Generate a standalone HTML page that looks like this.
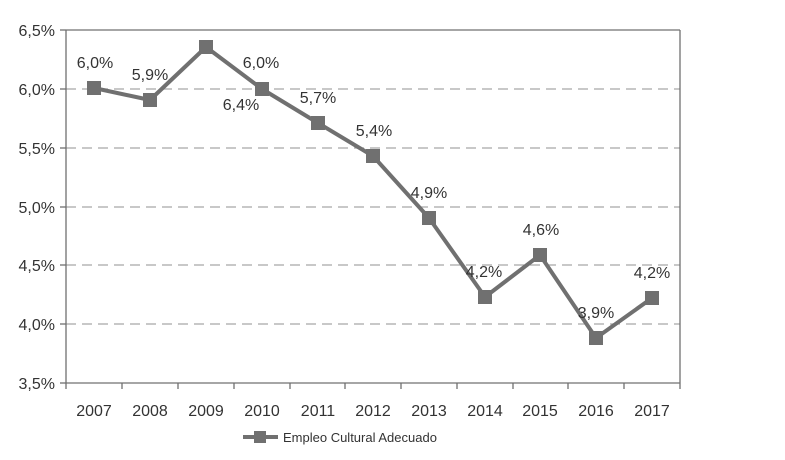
<!DOCTYPE html>
<html><head><style>body{margin:0;background:#fff}</style></head><body>
<svg width="785" height="455" xmlns="http://www.w3.org/2000/svg" font-family="'Liberation Sans',sans-serif" font-size="16" fill="#333">
<g stroke="#a6a6a6" stroke-width="1.3" stroke-dasharray="10,6">
<line x1="66" y1="89" x2="680" y2="89"/><line x1="66" y1="148" x2="680" y2="148"/><line x1="66" y1="207" x2="680" y2="207"/><line x1="66" y1="265" x2="680" y2="265"/><line x1="66" y1="324" x2="680" y2="324"/>
</g>
<g stroke="#707070" stroke-width="1.3">
<line x1="66" y1="30" x2="680" y2="30"/>
<line x1="66" y1="30" x2="66" y2="383"/><line x1="680" y1="30" x2="680" y2="383"/><line x1="66" y1="383" x2="680" y2="383"/>
<line x1="60" y1="30" x2="66" y2="30"/><line x1="60" y1="89" x2="66" y2="89"/><line x1="60" y1="148" x2="66" y2="148"/><line x1="60" y1="207" x2="66" y2="207"/><line x1="60" y1="265" x2="66" y2="265"/><line x1="60" y1="324" x2="66" y2="324"/><line x1="60" y1="383" x2="66" y2="383"/>
<line x1="122" y1="383" x2="122" y2="389"/><line x1="178" y1="383" x2="178" y2="389"/><line x1="234" y1="383" x2="234" y2="389"/><line x1="290" y1="383" x2="290" y2="389"/><line x1="345" y1="383" x2="345" y2="389"/><line x1="401" y1="383" x2="401" y2="389"/><line x1="457" y1="383" x2="457" y2="389"/><line x1="513" y1="383" x2="513" y2="389"/><line x1="568" y1="383" x2="568" y2="389"/><line x1="624" y1="383" x2="624" y2="389"/><line x1="680" y1="383" x2="680" y2="389"/><line x1="66" y1="383" x2="66" y2="389"/>
</g>
<g text-anchor="end">
<text x="55" y="36">6,5%</text><text x="55" y="95">6,0%</text><text x="55" y="154">5,5%</text><text x="55" y="213">5,0%</text><text x="55" y="271">4,5%</text><text x="55" y="330">4,0%</text><text x="55" y="389">3,5%</text>
</g>
<g text-anchor="middle">
<text x="94" y="416">2007</text><text x="150" y="416">2008</text><text x="206" y="416">2009</text><text x="262" y="416">2010</text><text x="318" y="416">2011</text><text x="373" y="416">2012</text><text x="429" y="416">2013</text><text x="485" y="416">2014</text><text x="540" y="416">2015</text><text x="596" y="416">2016</text><text x="652" y="416">2017</text>
</g>
<polyline points="94,88 150,100 206,47 262,89 318,123 373,156 429,218 485,297 540,255 596,338 652,298" fill="none" stroke="#707070" stroke-width="4" stroke-linejoin="round"/>
<g fill="#707070">
<rect x="87" y="81" width="14" height="14"/><rect x="143" y="93" width="14" height="14"/><rect x="199" y="40" width="14" height="14"/><rect x="255" y="82" width="14" height="14"/><rect x="311" y="116" width="14" height="14"/><rect x="366" y="149" width="14" height="14"/><rect x="422" y="211" width="14" height="14"/><rect x="478" y="290" width="14" height="14"/><rect x="533" y="248" width="14" height="14"/><rect x="589" y="331" width="14" height="14"/><rect x="645" y="291" width="14" height="14"/>
</g>
<g text-anchor="middle" font-size="16">
<text x="95" y="68">6,0%</text><text x="150" y="80">5,9%</text><text x="241" y="110">6,4%</text><text x="261" y="68">6,0%</text><text x="318" y="103">5,7%</text><text x="374" y="136">5,4%</text><text x="429" y="198">4,9%</text><text x="484" y="277">4,2%</text><text x="541" y="235">4,6%</text><text x="596" y="318">3,9%</text><text x="652" y="278">4,2%</text>
</g>
<line x1="243" y1="437" x2="278" y2="437" stroke="#707070" stroke-width="4"/>
<rect x="254" y="431" width="12" height="12" fill="#707070"/>
<text x="283" y="442" font-size="13">Empleo Cultural Adecuado</text>
</svg>
</body></html>
